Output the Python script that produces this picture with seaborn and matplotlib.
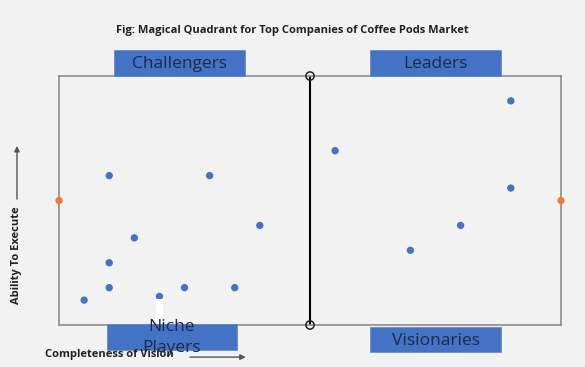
import matplotlib
matplotlib.use("Agg")
import matplotlib.pyplot as plt
import seaborn as sns
import pandas as pd
from matplotlib.patches import Rectangle, FancyArrowPatch

# company positions (completeness of vision, ability to execute)
vision = [1, 2, 2, 3, 2, 6, 5, 7, 8, 4, 11, 14, 16, 18, 18, 0, 20]
execute = [2, 3, 5, 7, 12, 12, 3, 3, 8, 2.3, 14, 6, 8, 11, 18, 10, 10]
group = ["company"] * 15 + ["edge"] * 2

quadrants = ["Challengers", "Leaders", "Niche\nPlayers", "Visionaries"]
quad_x = [4.8, 15.0, 4.5, 15.0]
quad_y = [21.0, 21.0, -1.0, -1.2]

df = pd.DataFrame({"vision": vision, "execute": execute, "group": group})

sns.set_style("white")
plt.rcParams["font.family"] = ["Open Sans", "DejaVu Sans"]

bg = "#f2f2f2"
fig = plt.figure(figsize=(5.85, 3.67), dpi=100, facecolor=bg)
ax = fig.add_axes([0.1009, 0.1144, 0.8581, 0.6785], facecolor=bg)

ax.axvline(10, color="black", lw=1.5, zorder=1)
sns.scatterplot(data=df, x="vision", y="execute", hue="group",
                palette={"company": "#4472C4", "edge": "#ED7D31"},
                s=28, edgecolor="none", legend=False, ax=ax, zorder=3,
                clip_on=False)
ax.scatter([10, 10], [0, 20], s=35, facecolor="none", edgecolor="#222222",
           lw=1.1, zorder=4, clip_on=False)

# white glitch over the half hidden dot
ax.add_patch(Rectangle((3.85, 0.2), 0.3, 1.9, facecolor="white",
                       edgecolor="none", zorder=4))

ax.set_xlim(0, 20)
ax.set_ylim(0, 20)
ax.set_xticks([])
ax.set_yticks([])
ax.set_xlabel("")
ax.set_ylabel("")
for sp in ax.spines.values():
    sp.set_color("#8c8c8c")
    sp.set_linewidth(1.2)

for name, qx, qy in zip(quadrants, quad_x, quad_y):
    ax.add_patch(Rectangle((qx - 2.6, qy - 1.0), 5.2, 2.05,
                           facecolor="#4472C4", edgecolor="#5b85d0",
                           lw=0.5, zorder=5, clip_on=False))
    ty = -1.0 if "\n" in name else qy - 0.05
    ax.text(qx, ty, name, ha="center", va="center", fontsize=12.5,
            color="#1a2a4a", zorder=6, clip_on=False, linespacing=1.4)

fig.text(0.5, 0.918, "Fig: Magical Quadrant for Top Companies of Coffee Pods Market",
         ha="center", va="center", fontsize=8, fontweight="bold", color="#222222")

fig.text(0.029, 0.305, "Ability To Execute", rotation=90, ha="center",
         va="center", fontsize=8, fontweight="bold", color="#222222")
fig.text(0.077, 0.034, "Completeness of Vision", ha="left", va="center",
         fontsize=8, fontweight="bold", color="#222222")

fig.add_artist(FancyArrowPatch(
    (0.029, 0.45), (0.029, 0.61), transform=fig.transFigure,
    arrowstyle="-|>", mutation_scale=8, color="#555555", lw=1))
fig.add_artist(FancyArrowPatch(
    (0.32, 0.027), (0.425, 0.027), transform=fig.transFigure,
    arrowstyle="-|>", mutation_scale=8, color="#555555", lw=1))

fig.savefig("out.png", dpi=100, facecolor=bg)
